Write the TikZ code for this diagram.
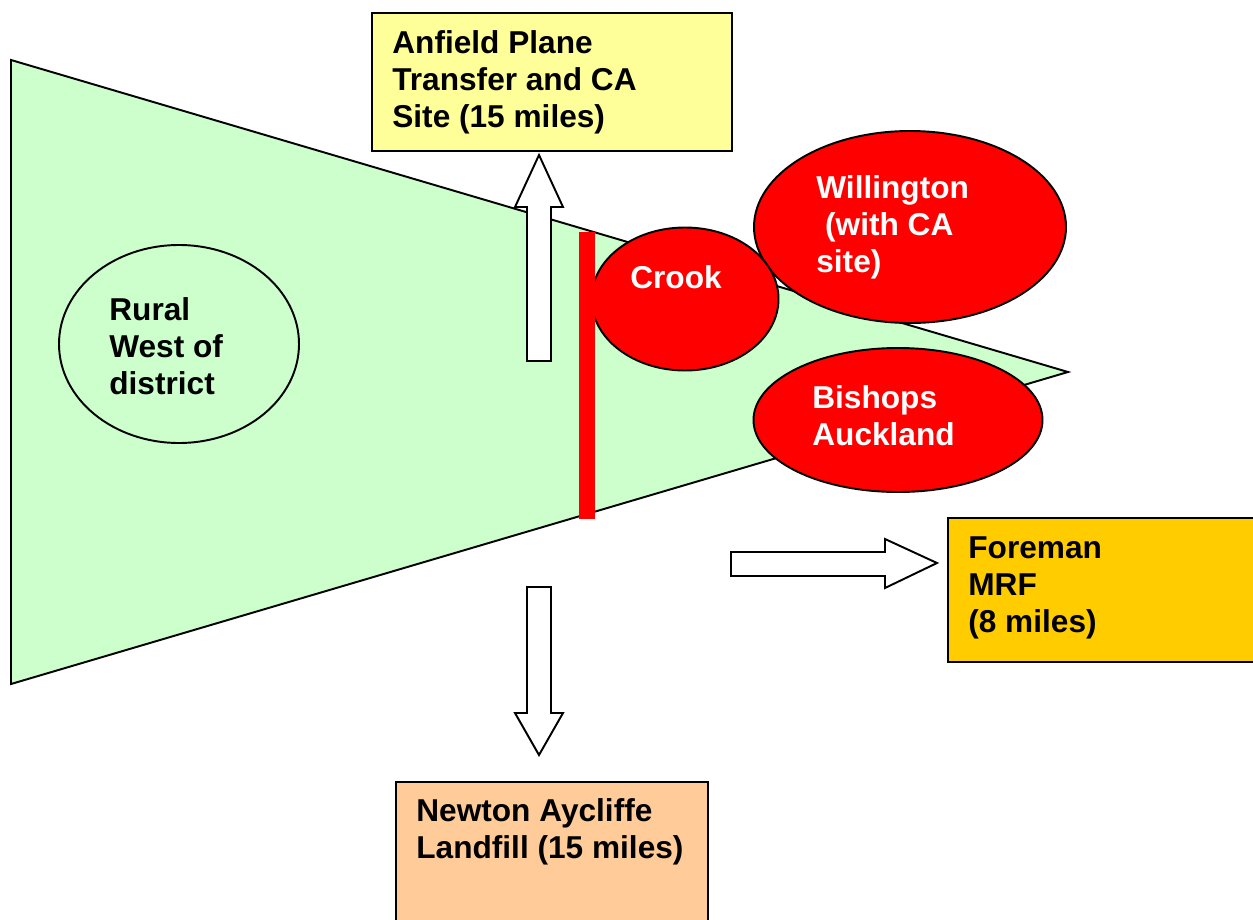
\documentclass[tikz,border=0pt]{standalone}
\usepackage{fontspec}
\setmainfont{Liberation Sans}
\usetikzlibrary{shapes.geometric}
\definecolor{landgreen}{HTML}{CCFFCC}
\definecolor{paleyellow}{HTML}{FFFF99}
\definecolor{peach}{HTML}{FFCC99}
\definecolor{gold}{HTML}{FFCC00}
\definecolor{townred}{HTML}{FF0000}
\tikzset{
  outline/.style={draw=black, line width=1.1pt, line join=miter},
  sitebox/.style={outline, rectangle, inner sep=0pt, anchor=north west},
  town/.style={outline, ellipse, fill=townred, inner sep=0pt},
  label/.style={font=\fontsize{18pt}{21pt}\selectfont\bfseries, align=left, anchor=west, inner sep=0pt},
  whitelabel/.style={label, text=white},
  blockarrow/.style={outline, fill=white},
}
\begin{document}
\begin{tikzpicture}[x=0.02cm, y=-0.02cm]
\useasboundingbox (0,0) rectangle (1253,919);
% district wedge
\draw[outline, fill=landgreen] (11,60) -- (1068,372) -- (11,684) -- cycle;
% rural west
\node[outline, ellipse, minimum width=240*0.02cm, minimum height=198*0.02cm, inner sep=0pt] (rural) at (179,344) {};
\node[label] (ruraltxt) at (109,346) {Rural\\West of\\district};
% towns
\node[town, minimum width=312*0.02cm, minimum height=192*0.02cm] (willington) at (910,227) {};
\node[whitelabel] (willtxt) at (816,227) {Willington\\\hspace{5pt}(with CA\\site)};
\node[town, minimum width=187*0.02cm, minimum height=143*0.02cm] (crook) at (685,299) {};
\node[whitelabel, anchor=center] (crooktxt) at (676,277) {Crook};
\node[town, minimum width=289*0.02cm, minimum height=144*0.02cm] (bishops) at (898,420) {};
\node[whitelabel] (bishopstxt) at (812,416) {Bishops\\Auckland};
% red boundary bar
\fill[townred] (579,232) rectangle (595,519);
% destination boxes
\node[sitebox, fill=paleyellow, minimum width=360*0.02cm, minimum height=138*0.02cm] (anfield) at (371,12) {};
\node[label] (anfieldtxt) at (392,82) {Anfield Plane\\Transfer and CA\\Site (15 miles)};
\node[sitebox, fill=peach, minimum width=312*0.02cm, minimum height=150*0.02cm] (newton) at (395,781) {};
\node[label] (newtontxt) at (416,832) {Newton Aycliffe\\Landfill (15 miles)};
\node[sitebox, fill=gold, minimum width=320*0.02cm, minimum height=144*0.02cm] (foreman) at (947,517) {};
\node[label] (foremantxt) at (968,588) {Foreman\\MRF\\(8 miles)};
% block arrows
\draw[blockarrow] (527,361) -- (527,207) -- (515,207) -- (539,155) -- (563,207) -- (551,207) -- (551,361) -- cycle;
\draw[blockarrow] (527,587) -- (527,713) -- (515,713) -- (539,755) -- (563,713) -- (551,713) -- (551,587) -- cycle;
\draw[blockarrow] (731,552) -- (885,552) -- (885,539) -- (937,563) -- (885,588) -- (885,576) -- (731,576) -- cycle;
\end{tikzpicture}
\end{document}
